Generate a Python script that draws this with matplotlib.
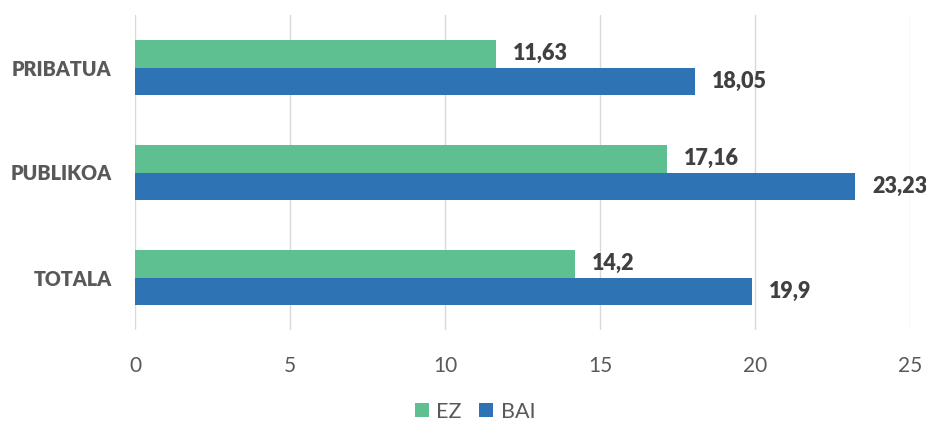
import matplotlib.pyplot as plt
import numpy as np

plt.rcParams['font.family'] = ['Lato', 'DejaVu Sans']

categories = ["TOTALA", "PUBLIKOA", "PRIBATUA"]
ez = [14.2, 17.16, 11.63]
bai = [19.9, 23.23, 18.05]
ez_labels = ["14,2", "17,16", "11,63"]
bai_labels = ["19,9", "23,23", "18,05"]

green = "#5EBF91"
blue = "#2E74B5"

fig = plt.figure(figsize=(9.26, 4.26), dpi=100)
ax = fig.add_axes([135 / 926, 1 - 330 / 426, 775 / 926, 315 / 426])

y = np.arange(len(categories))
h = 0.265
b_ez = ax.barh(y + h / 2, ez, height=h, color=green, label="EZ", zorder=3)
b_bai = ax.barh(y - h / 2, bai, height=h, color=blue, label="BAI", zorder=3)

for bars, labs in [(b_ez, ez_labels), (b_bai, bai_labels)]:
    for bar, lab in zip(bars, labs):
        ax.text(bar.get_width() + 0.55, bar.get_y() + bar.get_height() / 2, lab,
                va="center", ha="left", fontsize=15.5, fontweight="heavy", color="#404040")

ax.set_xlim(0, 25)
ax.set_ylim(-0.5, 2.5)
ax.set_xticks([0, 5, 10, 15, 20, 25])
ax.set_yticks(y)
ax.set_yticklabels(categories, fontsize=14.2, fontweight="heavy", color="#595959")
ax.tick_params(axis="x", labelsize=15, labelcolor="#595959", length=0, pad=19)
ax.tick_params(axis="y", length=0, pad=17)
ax.grid(axis="x", color="#D9D9D9", linewidth=1, zorder=0)
for s in ax.spines.values():
    s.set_visible(False)

fig.legend(handles=[b_ez, b_bai], loc="lower center", bbox_to_anchor=(0.513, -0.035),
           ncol=2, frameon=False, fontsize=15.5, labelcolor="#595959",
           handlelength=0.65, handleheight=0.65, handletextpad=0.35, columnspacing=0.8)

fig.savefig("out.png", dpi=100)
